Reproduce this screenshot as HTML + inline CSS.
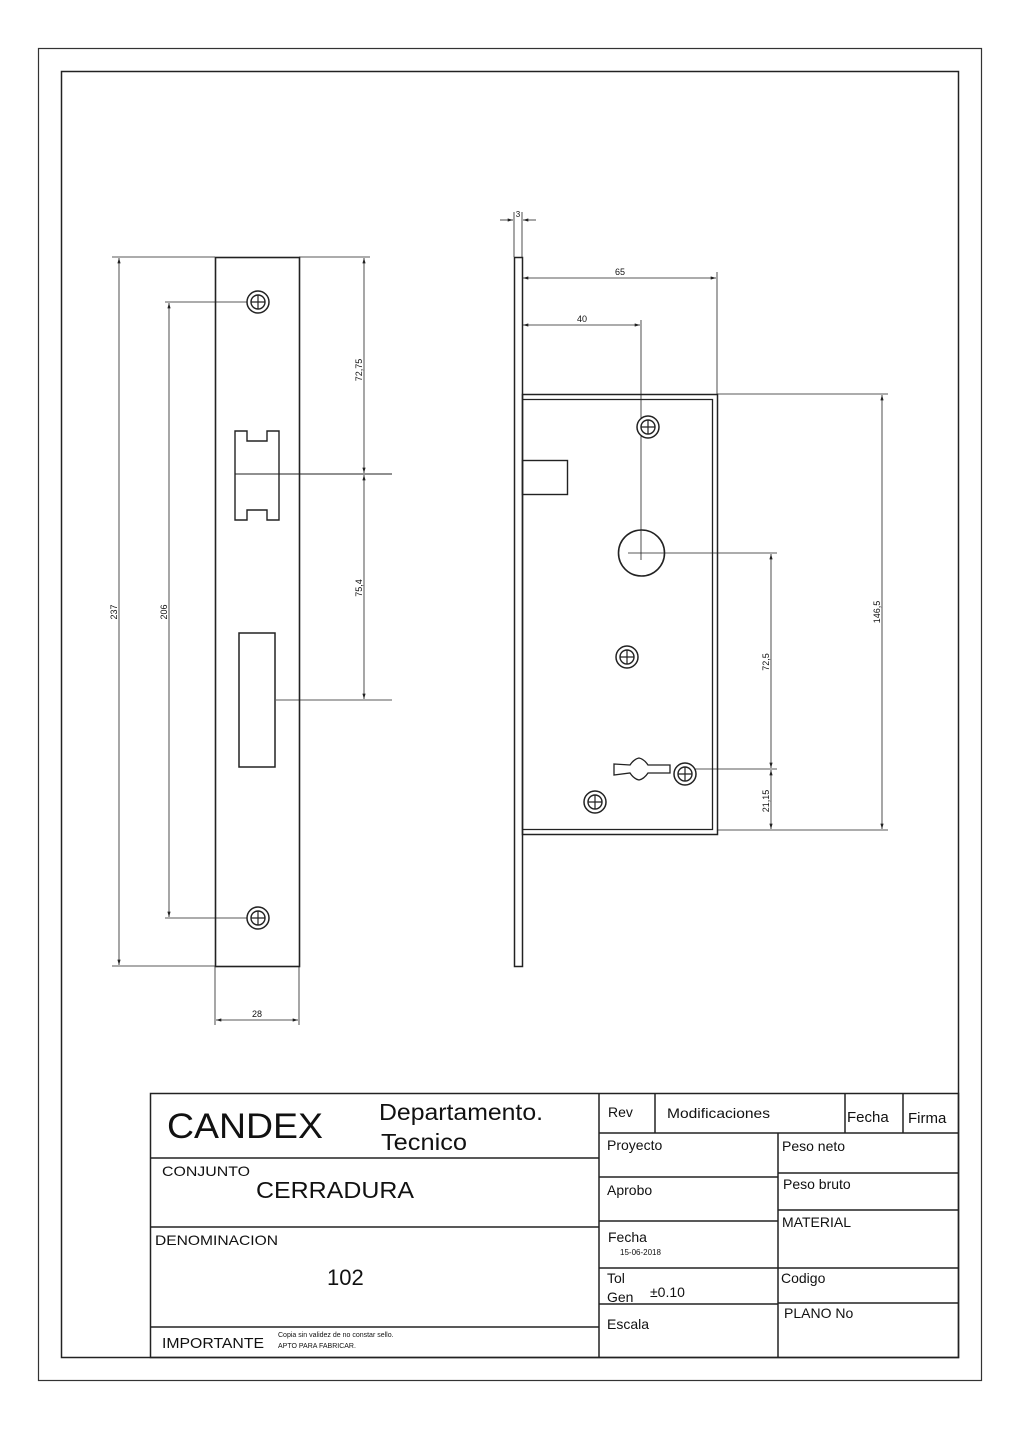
<!DOCTYPE html>
<html><head><meta charset="utf-8"><style>
html,body{margin:0;padding:0;background:#fff}
svg{display:block}
text{font-family:"Liberation Sans",sans-serif;fill:#111}
</style></head><body>
<svg width="1024" height="1447" viewBox="0 0 1024 1447" xmlns="http://www.w3.org/2000/svg">
<defs>
<marker id="a" viewBox="0 0 10 6" refX="10" refY="3" markerWidth="7" markerHeight="4" orient="auto-start-reverse"><path d="M0,0L10,3L0,6z" fill="#222"/></marker>
<g id="scr"><circle r="11" fill="#fff" stroke="#222" stroke-width="1.5"/><circle r="7" fill="none" stroke="#222" stroke-width="1.4"/><path d="M-7,0H7M0,-7V7" stroke="#222" stroke-width="1.2"/></g>
</defs>
<rect x="38.5" y="48.5" width="943" height="1332" fill="none" stroke="#333" stroke-width="1.2"/>
<rect x="61.5" y="71.5" width="897" height="1286" fill="none" stroke="#222" stroke-width="1.5"/>

<g stroke="#222" fill="none">
<rect x="215.5" y="257.5" width="84" height="709" stroke-width="1.6"/>
<path d="M235,431H247V441H267V431H279V520H267V510H247V520H235Z" stroke-width="1.4"/>
<line x1="235" y1="474" x2="392" y2="474" stroke-width="1"/>
<rect x="239" y="633" width="36" height="134" stroke-width="1.5"/>
<line x1="276" y1="700" x2="392" y2="700" stroke-width="0.8"/>
<g stroke-width="0.8">
<line x1="112" y1="257" x2="215" y2="257"/><line x1="112" y1="966" x2="215" y2="966"/>
<line x1="119" y1="258" x2="119" y2="965" marker-start="url(#a)" marker-end="url(#a)"/>
<line x1="165" y1="302" x2="258" y2="302"/><line x1="165" y1="918" x2="258" y2="918"/>
<line x1="169" y1="303" x2="169" y2="917" marker-start="url(#a)" marker-end="url(#a)"/>
<line x1="299" y1="257" x2="370" y2="257"/>
<line x1="364" y1="258" x2="364" y2="473" marker-start="url(#a)" marker-end="url(#a)"/>
<line x1="364" y1="475" x2="364" y2="699" marker-start="url(#a)" marker-end="url(#a)"/>
<line x1="215" y1="966" x2="215" y2="1025"/><line x1="299" y1="966" x2="299" y2="1025"/>
<line x1="216" y1="1020" x2="298" y2="1020" marker-start="url(#a)" marker-end="url(#a)"/>
</g>
</g>
<use href="#scr" x="258" y="302"/><use href="#scr" x="258" y="918"/>
<text font-size="9" transform="translate(117,612) rotate(-90)" text-anchor="middle">237</text>
<text font-size="9" transform="translate(167,612) rotate(-90)" text-anchor="middle">206</text>
<text font-size="9" transform="translate(362,370) rotate(-90)" text-anchor="middle">72,75</text>
<text font-size="9" transform="translate(362,588) rotate(-90)" text-anchor="middle">75,4</text>
<text x="257" y="1017" font-size="9" text-anchor="middle">28</text>

<g stroke="#222" fill="none">
<rect x="514.5" y="257.5" width="8" height="709" stroke-width="1.5"/>
<rect x="522.5" y="394.5" width="195" height="440" stroke-width="1.5"/>
<path d="M523,399.5H712.5V829.5H523" stroke-width="1.3"/>
<rect x="522.5" y="460.5" width="45" height="34" stroke-width="1.4"/>
<circle cx="641.5" cy="553" r="23" stroke-width="1.6"/>
<path d="M614,764L630,765Q634,759 639,758Q644,759 648,765L670,765V773L648,773Q644,779 639,780Q634,779 630,773L614,775Z" stroke-width="1.3"/>
<g stroke-width="0.8">
<line x1="514" y1="212" x2="514" y2="257"/><line x1="522" y1="212" x2="522" y2="257"/>
<line x1="500" y1="220" x2="513" y2="220" marker-end="url(#a)"/><line x1="536" y1="220" x2="523" y2="220" marker-end="url(#a)"/>
<line x1="523" y1="278" x2="716" y2="278" marker-start="url(#a)" marker-end="url(#a)"/>
<line x1="717" y1="272" x2="717" y2="394"/>
<line x1="523" y1="325" x2="640" y2="325" marker-start="url(#a)" marker-end="url(#a)"/>
<line x1="641" y1="320" x2="641" y2="560"/>
<line x1="628" y1="553" x2="777" y2="553"/>
<line x1="717" y1="394" x2="888" y2="394"/><line x1="717" y1="830" x2="888" y2="830"/>
<line x1="882" y1="395" x2="882" y2="829" marker-start="url(#a)" marker-end="url(#a)"/>
<line x1="771" y1="554" x2="771" y2="768" marker-start="url(#a)" marker-end="url(#a)"/>
<line x1="685" y1="769" x2="777" y2="769"/>
<line x1="771" y1="770" x2="771" y2="829" marker-start="url(#a)" marker-end="url(#a)"/>
</g>
</g>
<use href="#scr" x="648" y="427"/><use href="#scr" x="627" y="657"/><use href="#scr" x="685" y="774"/><use href="#scr" x="595" y="802"/>
<text x="518" y="217" font-size="8" text-anchor="middle">3</text>
<text x="620" y="275" font-size="9" text-anchor="middle">65</text>
<text x="582" y="322" font-size="9" text-anchor="middle">40</text>
<text font-size="9" transform="translate(880,612) rotate(-90)" text-anchor="middle">146,5</text>
<text font-size="9" transform="translate(769,662) rotate(-90)" text-anchor="middle">72,5</text>
<text font-size="9" transform="translate(769,801) rotate(-90)" text-anchor="middle">21,15</text>

<g stroke="#222" stroke-width="1.5" fill="none">
<rect x="150.5" y="1093.5" width="808" height="264"/>
<line x1="599" y1="1093" x2="599" y2="1357"/>
<line x1="150" y1="1158" x2="599" y2="1158"/>
<line x1="150" y1="1227" x2="599" y2="1227"/>
<line x1="150" y1="1327" x2="599" y2="1327"/>
<line x1="599" y1="1133" x2="958" y2="1133"/>
<line x1="655" y1="1093" x2="655" y2="1133"/>
<line x1="845" y1="1093" x2="845" y2="1133"/>
<line x1="903" y1="1093" x2="903" y2="1133"/>
<line x1="778" y1="1133" x2="778" y2="1357"/>
<line x1="599" y1="1177" x2="778" y2="1177"/>
<line x1="599" y1="1221" x2="778" y2="1221"/>
<line x1="599" y1="1268" x2="778" y2="1268"/>
<line x1="599" y1="1304" x2="778" y2="1304"/>
<line x1="778" y1="1173" x2="958" y2="1173"/>
<line x1="778" y1="1210" x2="958" y2="1210"/>
<line x1="778" y1="1268" x2="958" y2="1268"/>
<line x1="778" y1="1303" x2="958" y2="1303"/>
</g>
<text x="167" y="1138" font-size="35" textLength="156" lengthAdjust="spacingAndGlyphs">CANDEX</text>
<text x="379" y="1120" font-size="23" textLength="164" lengthAdjust="spacingAndGlyphs">Departamento.</text>
<text x="381" y="1150" font-size="23" textLength="86" lengthAdjust="spacingAndGlyphs">Tecnico</text>
<text x="162" y="1176" font-size="14" textLength="88" lengthAdjust="spacingAndGlyphs">CONJUNTO</text>
<text x="256" y="1198" font-size="23" textLength="158" lengthAdjust="spacingAndGlyphs">CERRADURA</text>
<text x="155" y="1245" font-size="14" textLength="123" lengthAdjust="spacingAndGlyphs">DENOMINACION</text>
<text x="327" y="1285" font-size="22">102</text>
<text x="162" y="1348" font-size="15" textLength="102" lengthAdjust="spacingAndGlyphs">IMPORTANTE</text>
<text x="278" y="1337" font-size="7">Copia sin validez de no constar sello.</text>
<text x="278" y="1348" font-size="7">APTO PARA FABRICAR.</text>
<text x="608" y="1117" font-size="14">Rev</text>
<text x="667" y="1118" font-size="14" textLength="103" lengthAdjust="spacingAndGlyphs">Modificaciones</text>
<text x="847" y="1122" font-size="15">Fecha</text>
<text x="908" y="1123" font-size="15">Firma</text>
<text x="607" y="1150" font-size="14">Proyecto</text>
<text x="782" y="1151" font-size="14">Peso neto</text>
<text x="607" y="1195" font-size="14">Aprobo</text>
<text x="783" y="1189" font-size="14">Peso bruto</text>
<text x="782" y="1227" font-size="14">MATERIAL</text>
<text x="608" y="1242" font-size="14">Fecha</text>
<text x="620" y="1255" font-size="8">15-06-2018</text>
<text x="607" y="1283" font-size="14">Tol</text>
<text x="607" y="1302" font-size="14">Gen</text>
<text x="650" y="1297" font-size="14">±0.10</text>
<text x="781" y="1283" font-size="14">Codigo</text>
<text x="784" y="1318" font-size="14">PLANO No</text>
<text x="607" y="1329" font-size="14">Escala</text>
</svg>
</body></html>
